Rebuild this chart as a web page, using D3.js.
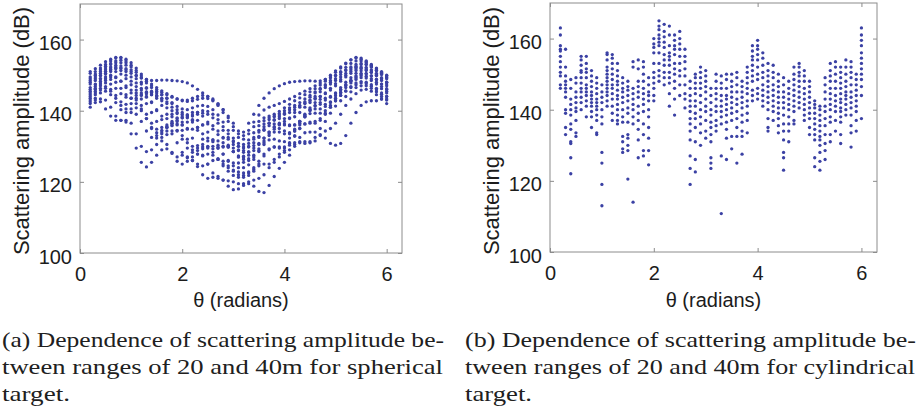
<!DOCTYPE html>
<html><head><meta charset="utf-8">
<script src="https://cdn.jsdelivr.net/npm/d3@7"></script>
<style>body{margin:0;background:#fff} svg{display:block}
.sans{font-family:"Liberation Sans","Arimo",Arial,Helvetica,sans-serif}
.serif{font-family:"Liberation Serif","Tinos","Times New Roman",Times,serif}
</style>
</head><body><svg id="c" width="922" height="410"></svg>
<script>
// ---------- data ----------
const thetaGrid = [0.2,0.3,0.4,0.5,0.6,0.7,0.8,0.9,1.0,1.1,1.2,1.3,1.4,1.5,1.6,1.7,1.8,1.9,2.0,2.1,2.2,2.3,2.4,2.5,2.6,2.7,2.8,2.9,3.0,3.1,3.2,3.3,3.4,3.5,3.6,3.7,3.8,3.9,4.0,4.1,4.2,4.3,4.4,4.5,4.6,4.7,4.8,4.9,5.0,5.1,5.2,5.3,5.4,5.5,5.6,5.7,5.8,5.9,6.0];
const xTicks = [0, 2, 4, 6];
const yTicks = [100, 120, 140, 160];

// (a) spherical target: one curve of amplitude (dB) per range
const sphere01 = [148,149,150,151,151.5,152,152,151.5,151,150,149.3,148.8,148.5,148.5,148.6,148.6,148.5,148.4,148.2,147.8,147,146,145,144,143,141.8,140.3,138.5,136.5,134.3,134,136.5,139,141.5,143.5,145,146.2,147,147.6,148,148.2,148.3,148.4,148.4,148.3,148.4,148.8,149.3,150,150.8,151.5,152,152.2,152,151.5,150.8,150,149,148];
const sphere02 = [150.5,151,152,153,154,154.8,155,154.5,153.5,152,150.3,148.8,147.5,146.5,145.6,144.8,144,143.3,142.8,142.6,142.8,143.2,143.5,143.4,142.8,141.5,139.5,137,134.5,132.5,132,133.5,135.5,137,138,138.5,139,139.8,140.8,141.8,142.8,143.6,144.5,145.3,146.2,147.2,148.3,149.5,150.8,152,153.2,154.3,155,154.8,154,153,152,151,150];
const sphere03 = [149,150,151,152,153,153.5,153.5,152.8,151.5,149.8,148,146.5,145.2,144.2,143.5,142.5,141,139.5,138.5,138.2,138.5,139,139.3,139,138,136.5,134.5,132.5,130.5,129,128.8,130,132,134,135.5,136.5,137.3,138.3,139.3,140.3,141,141.5,142,142.8,144,145.3,146.5,147.5,148.5,149.5,150.5,151.5,152.5,153,153,152.3,151.3,150.3,149.3];
const sphere04 = [147.5,148.5,149.8,151,152,152.3,152,151,149.5,147.8,146.3,145.2,144.5,144,143.3,142,140,137.8,136,135,134.8,135.3,136,136.3,135.8,134.3,132.3,130.3,128.5,127.3,127.2,128.3,130.2,132.5,134.5,135.8,136.3,136.5,137,138,139.5,141,142.2,143,143.5,144,145,146.3,147.6,148.8,150,151,151.8,152.3,152.2,151.5,150.5,149.3,148];
const sphere05 = [146.5,147.5,149,150.3,151,151,150.3,149,147.3,145.8,145,144.8,144.5,143.5,141.5,139,137,136,136,136.8,137.5,137.3,136,134,131.8,130.3,129.8,129.8,129.5,128.8,128.3,128.5,129.5,130.8,132.3,134,135.5,136.2,136.3,136,136,137,138.8,140.8,142.3,143.2,143.5,144,145,146.5,148,149.3,150.5,151.2,151.3,150.8,149.8,148.5,147];
const sphere06 = [145.5,146.8,148.3,149.5,150,149.5,148.3,146.5,145,144.3,144.3,144,142.5,140,137.5,136,136,137,138,138,136.8,134.5,132,130,129.3,129.5,130,129.8,128.5,127,126.3,126.5,127.5,129.3,131.5,133.5,134.8,135,134.3,133.8,134.3,136,138.3,140.3,141.5,141.8,141.8,142.3,143.5,145.2,147,148.5,149.8,150.5,150.5,149.8,148.8,147.5,146];
const sphere07 = [144.5,146,147.5,148.5,148.8,148,146.3,144.5,143.5,143.5,143.3,142,139.5,137,135.3,135.3,136.5,137.3,136.8,134.8,132.3,130.2,129.3,129.5,130,129.5,127.8,125.8,124.5,124,124,124.8,126.3,128.5,130.5,131.8,132,131.5,131.3,132.3,134.3,136.5,138.3,139.2,139.3,139.3,140,141.5,143.3,145,146.5,147.8,148.8,149.3,149.2,148.5,147.5,146.2,145];
const sphere08 = [143.5,145,146.3,146.8,146,144.3,142.5,141.8,142,142,140.5,137.8,135.3,133.8,134,135.3,135.8,134.5,132,129.5,128.3,128.8,129.8,129.8,128.3,126.5,125,124,123.3,122.8,122.5,122.8,124,125.8,127.8,129.3,129.8,129.5,129.5,130.8,132.8,135,136.3,136.5,136.5,137.3,139,141,142.8,144.3,145.6,146.8,147.8,148.2,148,147.3,146.3,145,144];
const sphere09 = [142,143.5,145,145.5,144.5,142.3,140.3,139.5,139.5,139,137,134.3,132.5,132.3,133.5,134.3,133.5,131,128.3,126.8,127,127.8,127.3,125,122.5,121,120.5,120.3,120,119.5,119.5,120,120.5,121,122,124,126.3,127.8,128.3,129,130.5,132.5,133.8,134,134,135,137,139.3,141.3,142.8,144,145.3,146.5,147,147,146.3,145.3,144,143];
const sphere10 = [141,142.3,143.3,143,141,138.5,137.3,137.3,136.5,133.5,130,128.5,129,130.5,131.5,130.5,128,125.8,125,125.8,126,124.3,122,121,121.3,121.5,120.5,118.8,117.8,118,119,119.5,118.8,117.3,117,119,121.5,123.8,125.5,127.5,130,131.3,131.3,131,131.5,133,134.3,135,136.5,139,141.5,143.3,144.8,145.8,146,145.5,144.5,143.3,142];
const sphere11 = [142.5,143,142.5,140.5,138.5,137.3,137.3,136.8,133.5,129.5,125.5,124.2,125.5,127.5,129,129.3,128.3,127,127.5,127,126,125,124.5,125,126,126.3,125.8,124.5,123,122,121.8,122.5,123.5,124.5,125,125,125.5,127,128.8,130.3,131,131,130.8,131.3,132.5,133.3,132.3,130.8,130.3,130.8,133,136.5,139.5,141.5,142.5,142.8,142.8,143.3,144];
const sphere12 = [149.5,150.3,151.5,152.5,153.3,154,154.2,153.5,152.3,150.8,149.2,147.8,146.5,145.5,144.5,143.5,142.3,141.2,140.5,140.3,140.8,141.3,141.5,141.2,140.3,138.8,136.8,134.5,132.3,130.8,130.5,131.8,133.8,135.8,137.2,138,138.5,139.2,140,140.8,141.5,142.3,143.3,144.3,145.3,146.3,147.3,148.5,149.8,151,152.2,153.3,154,154,153.5,152.6,151.5,150.5,149.5];
const sphere13 = [146,147.3,149,150.5,151.5,151.8,151.3,150,148.3,146.8,145.8,145.3,145,144.3,142.8,140.8,139,138,138,138.8,139.5,139.5,138.5,136.8,134.8,133.3,132.5,132,131.3,130,129.5,129.8,131,132.8,134.8,136.5,137.5,137.8,137.8,137.8,138.3,139.5,141,142.3,143.3,144,144.8,145.8,147,148.3,149.5,150.5,151.3,151.8,151.8,151.2,150.2,149,147.5];
const sphere14 = [144,145.5,147,147.8,147.5,146.3,144.8,143.8,143.5,143,141.5,139,136.5,134.8,134.5,135.5,136.5,136.3,134.5,132,130,129.5,130.5,131.5,131.3,129.8,127.8,126,125.3,125.3,125.5,126,127,128.8,131,133,134,134,133.5,133.5,134.8,137,139,140.3,140.5,140.5,141.2,142.5,144.2,145.8,147.2,148.3,149.2,149.8,149.7,149,148,146.8,145.5];
const sphere15 = [151,151.8,152.8,153.8,154.5,155,154.8,154,152.8,151.3,149.8,148.3,147,146,145.2,144.5,143.8,143.3,143,143,143.5,144,144.3,144,143.3,142,140.3,138,135.5,133.5,133,134.5,136.8,138.8,140.2,141,141.5,142,142.6,143.3,144,144.8,145.5,146.2,147,147.8,148.8,150,151.2,152.3,153.4,154.3,154.8,154.5,153.8,152.8,151.8,150.8,149.8];
const sphere16 = [148.5,149.5,150.5,151.5,152.3,152.8,152.6,151.8,150.5,149,147.5,146.3,145.5,145,144.5,143.5,142,140.3,139,138.5,138.8,139.5,140,139.8,139,137.5,135.5,133.5,131.5,130,129.8,130.8,132.5,134.5,136.3,137.5,138.3,138.8,139,139.5,140.3,141.3,142.5,143.8,145,146,147,148,149,150.2,151.3,152.3,153,153.3,153,152.3,151.3,150.2,149];
const sphere17 = [145,146.3,147.8,149,149.5,149.3,148.3,147,145.8,145,144.5,143.8,142.3,140.3,138.5,137.8,138.3,139.2,139.5,138.8,137.3,135.3,133.5,132.3,131.8,131.5,131,130,128.5,127,126.8,127.5,128.8,130.5,132.3,134,135.3,136,136,135.8,136,137,138.5,140,141.3,142.3,143,143.8,144.8,146,147.3,148.5,149.5,150.2,150.3,149.8,148.8,147.5,146.2];
const sphere18 = [143,144.5,145.8,146.3,145.5,143.5,141.5,140.5,140.5,140.8,140,137.8,135,133,132.5,133.3,134.3,134.3,133,131,129,127.8,127.5,127.8,127.5,126.3,124.5,123,121.8,121.3,121.3,121.8,123,125,127.3,129,129.8,129.8,129.8,131,133,135,136.3,136.8,137,137.8,139.3,141,142.8,144.3,145.5,146.5,147.3,147.8,147.6,146.9,145.9,144.6,143.3];
const sphereCurves = [sphere01,sphere02,sphere03,sphere04,sphere05,sphere06,sphere07,sphere08,sphere09,sphere10,sphere11,sphere12,sphere13,sphere14,sphere15,sphere16,sphere17,sphere18];

// (b) cylindrical target: amplitudes (dB) observed at each angle of thetaGrid
const cylinderColumns = [
 [163,161,158,157,156.5,155,153.5,152,150.5,149.5,147,146],
 [157,152,149.5,148,147,146,145,143.5,140,139,135,133],
 [148.5,146,143,141.5,140,138.5,136,134.5,131,130.5,126.5,122],
 [149,147.5,145,143.5,142,140.5,139.5,137,133.5,132.5],
 [155,154,152.5,151,150.5,149,147.5,146,145,143.5,142,140],
 [155,153,151.5,150.5,149,147,146,145,144,142.5,141,138],
 [151,149.5,148,146.5,145,144,143,142,141,139.5,138,135],
 [149,147.5,146,144.5,143,142,141,140,138.5,137,133.5,133],
 [147,145,143.5,142,140,138,136,128,125,119,113],
 [156,155.5,154,152,151,150,149,148,147,146,145,144,142.5,141],
 [155.5,154.5,153,151.5,150,148.5,147,146,144.5,143,141,139,137],
 [153,151,149.5,148,147,145.5,144,143,141.5,140,138.5,137,136],
 [149,147.5,146,145,143.5,142,140,138,136.5,132.5,131,129,128],
 [148,146.5,145.5,144,142.5,140.5,139,136.5,133,132,130,128.5,120.5],
 [153.5,152,146,144.5,143,141.5,140,138,136,114],
 [154,151.5,148,146.5,145,143.5,141,139,137,134.5,131.5,126.5],
 [153.5,152,150,148,146,144.5,143,141.5,139.5,136,133,128.5,127],
 [149,147,145,144,142.5,140,138,135,132,128.5,124.5],
 [160,158.5,157.5,156,153,150.5,149,147.5,146,144,142.5],
 [165,163.5,162.5,161,160,159,158,156,153,151,149.5,148],
 [164,162,160.5,159,157.5,155.5,154,152.5,150.5,149,147],
 [163.5,161,158,156,155,154,152.5,150.5,149,147.5,144.5,141],
 [161,159.5,158,157,155.5,153,151.5,150,148,146,143,138.5],
 [162,160,158.5,157,155,153,151,149.5,147,144],
 [157,155,153.5,151.5,149.5,147,144.5,143,140.5],
 [148,146,144,142.5,141,139.5,137.5,136,134,131.5,127,123.5,119],
 [150,149,147.5,146,144.5,142.5,141,139,137.5,135,131,126,122.5],
 [152,150.5,149,147.5,146,144,142,140,138,136,133.5,130],
 [151,149.5,148,146.5,145,143,141,139.5,137,134,132],
 [146,144,142,140,138.5,136.5,135,133,131,126.5,125,123.5],
 [150,148,146,144.5,143,141,139.5,137,135.5,134],
 [149.5,147.5,146,144,142.5,141,139.5,138,136,127,110.8],
 [150,148.5,146,144,143,141.5,140,138.5,136.5,134.5,132,126],
 [150,148,146.5,145,143.5,142,140.5,139,137,132.5,129],
 [150.5,149,147,145,143,141.5,139.5,137.5,135,132.5,125],
 [148,146.5,145,143.5,142,140.5,138.5,136.5,134,132.5,127.5],
 [152,150.5,149,147.5,146,144.5,142.5,141,139,137,133.5],
 [158,156.5,155,154,152.5,151,149.5,148,145.5,144,142.5],
 [159.5,158,157,155.5,154,152,150,148.5,146,144.5,143],
 [156,154.5,152.5,150.5,149,147,145.5,144,142.5,141],
 [153,151,149.5,148,146.5,145,143.5,142,140,137.5,135,134],
 [152.5,150.5,149,147,145.5,144,142.5,141,139.5,137],
 [150,148,146.5,145,143.5,142,140.5,139,137.5,135.5,133.5],
 [149,147,145,143.5,142,140.5,138.5,136,134,131.5,128,126.5,123],
 [148,146,144.5,143,141.5,140,138,136,134,131],
 [152,150,148.5,147,145.5,144,142.5,141,139.5,137,136],
 [153,152,150.5,149.5,148,146.5,145,143.5,142,140.5],
 [151,149.5,148,146,144.5,143,141.5,140,138.5,137],
 [148,146.5,145,143.5,142,140.5,139,137.5,135,133],
 [142.5,141.5,140.5,139,137.5,136,134.5,133,131.5,126.5,124],
 [141,140,138.5,137,135.5,134,132.5,131.5,130,128,125.5,123],
 [149,147,145,143,141,139.5,137.5,135.5,133,130.5,128.5,126],
 [153,151,149.5,148,146,144.5,143,141.5,140,138,136.5,133,131],
 [153.5,152,150,148,146,144,142.5,141,139.5,137,134],
 [152,150.5,149,147.5,146,144.5,143,142,140.5,139.5,138,136.5,133,130.5],
 [154,152,150,148,146.5,145,144,143,141.5,140,138.5],
 [153.5,152,150.5,149,147,145,143.5,142,140.5,138.5,135.5,133.5,129.5],
 [150,148.5,147,145.5,144,142.5,141,139.5,137,134],
 [163,161,159.5,158,156,154.5,153,151.5,150,148.5,146.5,144,137.5]
];

const captionA = ["(a) Dependence of scattering amplitude be-", "tween ranges of 20 and 40m for spherical", "target."];
const captionB = ["(b) Dependence of scattering amplitude be-", "tween ranges of 20 and 40m for cylindrical", "target."];

// ---------- drawing ----------
const svg = d3.select("#c");
const dotColor = "#3b41a4";
const frameColor = "#8c8c8c";

const spherePoints = sphereCurves.flatMap(c => c.map((v, i) => [thetaGrid[i], v]));
const cylinderPoints = cylinderColumns.flatMap((col, i) => col.map(v => [thetaGrid[i], v]));

function drawPanel(b, points, caption) {
  const g = svg.append("g");
  const x = d3.scaleLinear().domain([0, 6.3]).range([b.x0, b.x1]);
  const y = d3.scaleLinear().domain([100, 170]).range([b.y1, b.y0]);

  g.append("g").selectAll("circle").data(points).join("circle")
    .attr("cx", d => x(d[0])).attr("cy", d => y(d[1]))
    .attr("r", 1.65).attr("fill", dotColor);

  g.append("rect").attr("x", b.x0).attr("y", b.y0)
    .attr("width", b.x1 - b.x0).attr("height", b.y1 - b.y0)
    .attr("fill", "none").attr("stroke", frameColor).attr("stroke-width", 1);

  const styleAxis = s => {
    s.attr("font-family", null).attr("font-size", null);
    s.select(".domain").remove();
    s.selectAll(".tick line").attr("stroke", frameColor);
    s.selectAll(".tick text").attr("fill", "#1c1c1c").attr("class", "sans")
      .style("font-size", "20px");
  };
  const fmt = d3.format("d");
  g.append("g").attr("transform", `translate(0,${b.y1})`)
    .call(d3.axisBottom(x).tickValues(xTicks).tickFormat(fmt).tickSize(-4).tickPadding(14)).call(styleAxis);
  g.append("g").attr("transform", `translate(0,${b.y0})`)
    .call(d3.axisTop(x).tickValues(xTicks).tickSize(-4).tickFormat("")).call(styleAxis);
  g.append("g").attr("transform", `translate(${b.x0},0)`)
    .call(d3.axisLeft(y).tickValues(yTicks).tickFormat(fmt).tickSize(-4).tickPadding(8)).call(styleAxis)
    .call(s => s.selectAll(".tick text").attr("dy", "0.5em"));
  g.append("g").attr("transform", `translate(${b.x1},0)`)
    .call(d3.axisRight(y).tickValues(yTicks).tickSize(-4).tickFormat("")).call(styleAxis);

  g.append("text").attr("class", "sans").attr("x", (b.x0 + b.x1) / 2).attr("y", 307)
    .attr("text-anchor", "middle").attr("fill", "#1c1c1c")
    .style("font-size", "20px")
    .text("θ (radians)");
  g.append("text").attr("class", "sans").attr("transform", `translate(${b.x0 - 51},131) rotate(-90)`)
    .attr("text-anchor", "middle").attr("fill", "#1c1c1c")
    .style("font-size", "22px")
    .text("Scattering amplitude (dB)");

  caption.forEach((line, i) => {
    g.append("text").attr("class", "serif").attr("x", b.cx).attr("y", 347 + i * 27)
      .attr("textLength", b.capW[i]).attr("lengthAdjust", "spacingAndGlyphs")
      .attr("fill", "#202020")
      .style("font-size", "22px")
      .text(line);
  });
}

drawPanel({x0: 80, x1: 402, y0: 4, y1: 253, cx: 2, capW: [442, 441, 68]}, spherePoints, captionA);
drawPanel({x0: 550, x1: 877, y0: 3, y1: 252, cx: 465, capW: [451, 450, 67]}, cylinderPoints, captionB);
</script>
</body></html>
